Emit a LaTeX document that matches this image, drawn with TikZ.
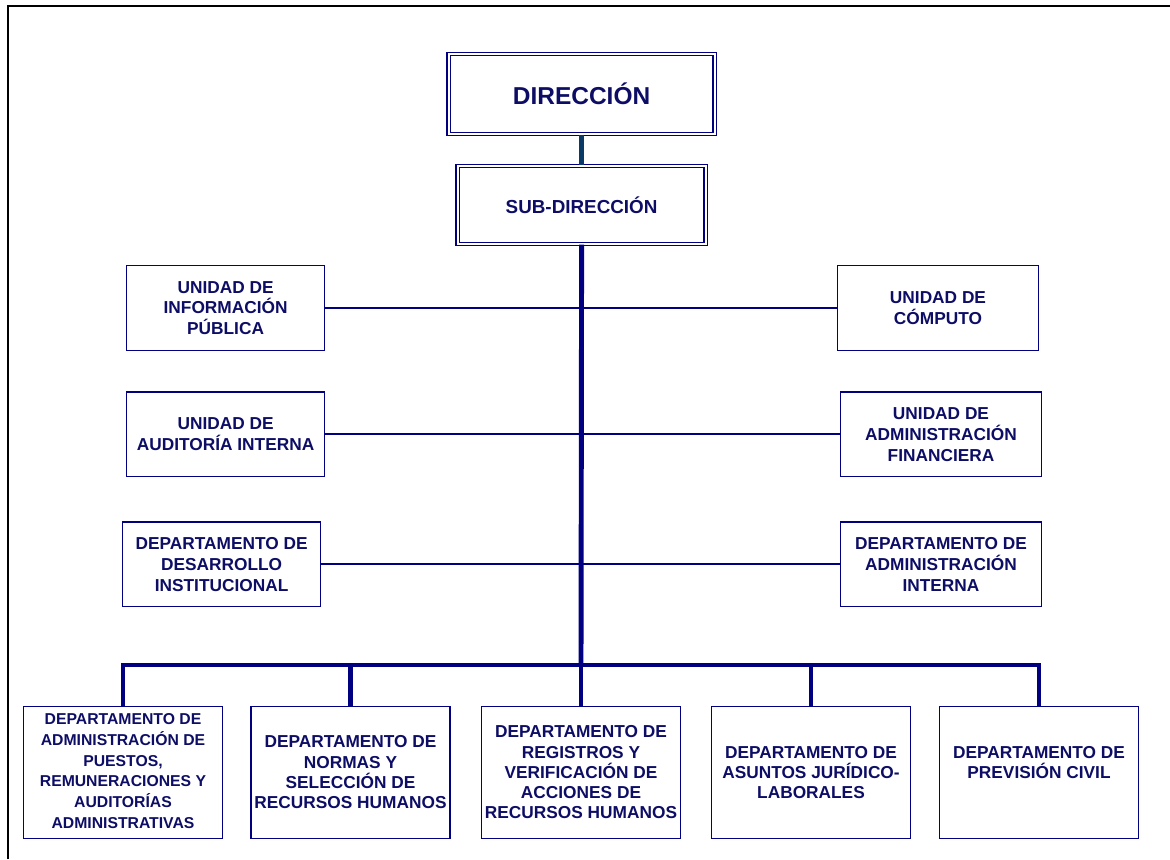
\documentclass[tikz,border=0pt]{standalone}
\usepackage{fontspec}
\setmainfont{Liberation Sans}
\usepackage{tikz}
\usetikzlibrary{positioning, calc}
\definecolor{navycol}{HTML}{000080}
\definecolor{textcol}{HTML}{0D0D66}
\definecolor{topcol}{HTML}{0B3A66}

\begin{document}
\begin{tikzpicture}[
  head/.style={
    draw=navycol, double=white, double distance=1.4pt, line width=0.9pt,
    minimum width=6.65cm, minimum height=2.0cm, align=center,
    text=textcol, font=\bfseries\fontsize{17.4}{20}\selectfont
  },
  unit/.style={
    draw=navycol, line width=0.9pt, minimum width=4.95cm, minimum height=2.12cm,
    align=center, inner sep=1pt, text=textcol,
    font=\bfseries\fontsize{12.3}{14.8}\selectfont
  },
  dept/.style={
    draw=navycol, line width=0.9pt, minimum width=4.98cm, minimum height=3.3cm,
    align=center, inner sep=1pt, text=textcol,
    font=\bfseries\fontsize{12.3}{14.4}\selectfont
  },
  trunk/.style={navycol, line width=3.5pt},
  link/.style={navycol, line width=1.3pt}
]
\useasboundingbox (0,0) rectangle (29.25,-21.475);

% outer frame (only top and left edges show)
\draw[black, line width=1.4pt] (0.2,-21.475) -- (0.2,-0.15) -- (29.25,-0.15);

% ============ TOP ============
\node[head] (dir) at (14.54,-2.35) {DIRECCIÓN};
\node[head, minimum width=6.2cm, minimum height=1.95cm,
  font=\bfseries\fontsize{13.4}{16}\selectfont] (sub) at (14.54,-5.125) {SUB-DIRECCIÓN};
\draw[topcol, line width=3.5pt] (dir.south) -- (sub.north);

% ============ SIDE UNITS ============
\node[unit] (info) at (5.64,-7.7) {UNIDAD DE\\INFORMACIÓN\\PÚBLICA};
\node[unit, minimum width=5.03cm] (comp) at (23.45,-7.7) {UNIDAD DE\\CÓMPUTO};

\node[unit] (audit) at (5.64,-10.86) {UNIDAD DE\\AUDITORÍA INTERNA};
\node[unit, minimum width=5.03cm] (finan) at (23.525,-10.86)
  {UNIDAD DE\\ADMINISTRACIÓN\\FINANCIERA};

\node[unit] (desa) at (5.54,-14.11)
  {DEPARTAMENTO DE\\DESARROLLO\\INSTITUCIONAL};
\node[unit, minimum width=5.03cm] (inter) at (23.525,-14.11)
  {DEPARTAMENTO DE\\ADMINISTRACIÓN\\INTERNA};

\draw[link] (info.east) -- (comp.west);
\draw[link] (audit.east) -- (finan.west);
\draw[link] (desa.east) -- (inter.west);

% ============ DEPARTMENTS ============
\node[dept, font=\bfseries\fontsize{11.2}{14.9}\selectfont] (puestos) at (3.075,-19.31)
  {\\[-9pt]DEPARTAMENTO DE\\ADMINISTRACIÓN DE\\PUESTOS,\\REMUNERACIONES Y\\AUDITORÍAS\\ADMINISTRATIVAS};
\node[dept] (normas) at (8.7625,-19.31)
  {DEPARTAMENTO DE\\NORMAS Y\\SELECCIÓN DE\\RECURSOS HUMANOS};
\node[dept] (regis) at (14.525,-19.31)
  {DEPARTAMENTO DE\\REGISTROS Y\\VERIFICACIÓN DE\\ACCIONES DE\\RECURSOS HUMANOS};
\node[dept] (jurid) at (20.275,-19.31)
  {DEPARTAMENTO DE\\ASUNTOS JURÍDICO-\\LABORALES};
\node[dept] (prev) at (25.975,-19.31)
  {DEPARTAMENTO DE\\PREVISIÓN CIVIL\\\phantom{X}};

% main trunk and bus
\coordinate (bus) at (14.525,-16.625);
\draw[trunk] (sub.south) -- (bus);
\draw[trunk] (puestos.north) |- (bus) -| (prev.north);
\foreach \n in {normas,regis,jurid}{
  \draw[trunk] (\n.north) -- (\n.north |- bus);
}

\end{tikzpicture}
\end{document}
